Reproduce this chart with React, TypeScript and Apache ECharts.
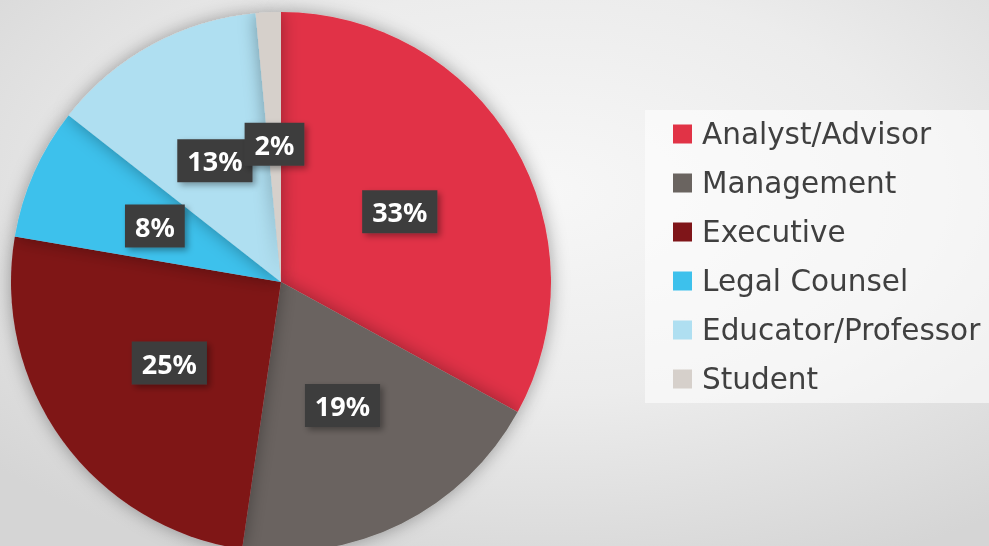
import React, { useEffect, useRef } from "react";
import * as echarts from "echarts";

const categories = ["Analyst/Advisor", "Management", "Executive", "Legal Counsel", "Educator/Professor", "Student"];
const values = [33, 19.3, 25.4, 7.9, 12.9, 1.5];
const colors = ["#e13346", "#6a6460", "#7f1519", "#3dc1ec", "#afdff1", "#d6d0cb"];

export default function App() {
  const ref = useRef<HTMLDivElement>(null);
  useEffect(() => {
    document.body.style.margin = "0";
    const chart = echarts.init(ref.current!, undefined, { renderer: "svg" });
    chart.setOption({
      animation: false,
      backgroundColor: {
        type: "radial",
        x: 0.55,
        y: 0.35,
        r: 0.75,
        colorStops: [
          { offset: 0, color: "#f7f7f7" },
          { offset: 0.5, color: "#ececec" },
          { offset: 1, color: "#d5d5d5" },
        ],
      },
      graphic: [
        {
          type: "rect",
          left: 645,
          top: 110,
          shape: { width: 344, height: 293 },
          style: { fill: "rgba(255,255,255,0.55)" },
          z: 1,
        },
      ],
      legend: {
        orient: "vertical",
        left: 673,
        top: 119,
        padding: 0,
        itemWidth: 19,
        itemHeight: 19,
        itemGap: 19,
        icon: "rect",
        data: categories,
        textStyle: { fontSize: 29.5, color: "#404040", fontFamily: "DejaVu Sans", lineHeight: 30, padding: [0, 0, 0, 5] },
        z: 5,
      },
      series: [
        {
          type: "pie",
          center: [281, 282],
          radius: [0, 270],
          startAngle: 90,
          clockwise: true,
          avoidLabelOverlap: false,
          minShowLabelAngle: 0,
          data: categories.map((name, i) => ({ name, value: values[i], itemStyle: { color: colors[i] } })),
          itemStyle: { shadowBlur: 18, shadowColor: "rgba(0,0,0,0.35)" },
          label: {
            show: true,
            position: "inside",
            formatter: (p: any) => Math.round(p.value) + "%",
            color: "#ffffff",
            fontSize: 27,
            fontWeight: "bold",
            fontFamily: "Noto Sans",
            backgroundColor: "#3d3d3d",
            padding: [8, 10, 8, 10],
            lineHeight: 27,
            shadowBlur: 6,
            shadowOffsetX: 3,
            shadowOffsetY: 3,
            shadowColor: "rgba(0,0,0,0.35)",
          },
          labelLayout: { hideOverlap: false },
          labelLine: { show: false },
          emphasis: { disabled: true },
        },
      ],
    });
    return () => chart.dispose();
  }, []);
  return <div ref={ref} style={{ position: "fixed", left: 0, top: 0, width: 989, height: 546 }} />;
}
